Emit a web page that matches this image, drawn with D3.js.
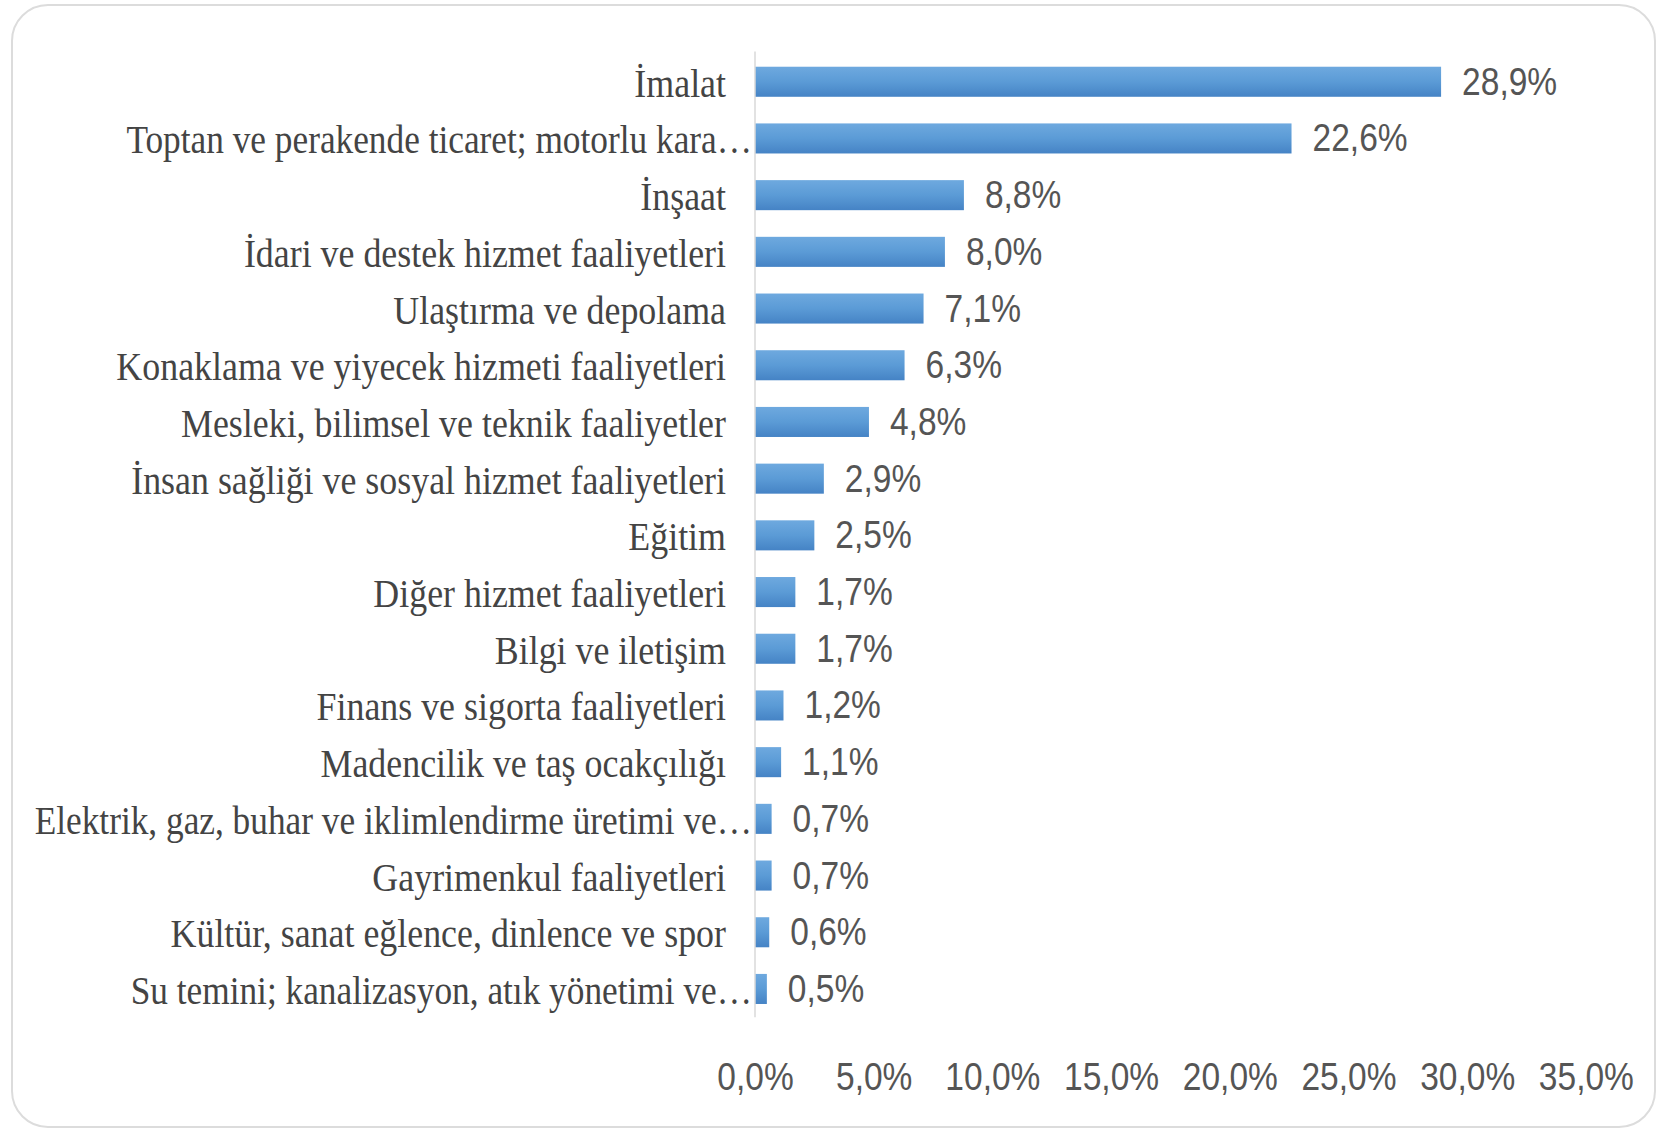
<!DOCTYPE html>
<html>
<head>
<meta charset="utf-8">
<script src="https://cdn.jsdelivr.net/npm/d3@7/dist/d3.min.js"></script>
<style>
  html, body { margin: 0; padding: 0; background: #ffffff; }
  svg { display: block; }
</style>
</head>
<body>
<svg id="chart" width="1657" height="1131"></svg>
<script>
// ---- Data ----
const categories = [
  "İmalat",
  "Toptan ve perakende ticaret; motorlu kara…",
  "İnşaat",
  "İdari ve destek hizmet faaliyetleri",
  "Ulaştırma ve depolama",
  "Konaklama ve yiyecek hizmeti faaliyetleri",
  "Mesleki, bilimsel ve teknik faaliyetler",
  "İnsan sağliği ve sosyal hizmet faaliyetleri",
  "Eğitim",
  "Diğer hizmet faaliyetleri",
  "Bilgi ve iletişim",
  "Finans ve sigorta faaliyetleri",
  "Madencilik ve taş ocakçılığı",
  "Elektrik, gaz, buhar ve iklimlendirme üretimi ve…",
  "Gayrimenkul faaliyetleri",
  "Kültür, sanat eğlence, dinlence ve spor",
  "Su temini; kanalizasyon, atık yönetimi ve…"
];
const values = [28.9, 22.6, 8.8, 8.0, 7.1, 6.3, 4.8, 2.9, 2.5, 1.7, 1.7, 1.2, 1.1, 0.7, 0.7, 0.6, 0.5];
const truncated = [false, true, false, false, false, false, false, false, false, false, false, false, false, true, false, false, true];
const tickValues = [0, 5, 10, 15, 20, 25, 30, 35];

// ---- Setup ----
const svg = d3.select("#chart");
const locale = d3.formatLocale({ decimal: ",", thousands: ".", grouping: [3], currency: ["", ""] });
const fmt = v => locale.format(".1f")(v) + "%";

const defs = svg.append("defs");
const grad = defs.append("linearGradient").attr("id", "barGrad")
  .attr("x1", 0).attr("y1", 0).attr("x2", 0).attr("y2", 1);
grad.append("stop").attr("offset", "0%").attr("stop-color", "#6ea9df");
grad.append("stop").attr("offset", "50%").attr("stop-color", "#5b9bd6");
grad.append("stop").attr("offset", "100%").attr("stop-color", "#4583c5");

// Frame
svg.append("rect")
  .attr("x", 12).attr("y", 5)
  .attr("width", 1643).attr("height", 1122)
  .attr("rx", 36).attr("ry", 36)
  .attr("fill", "#ffffff")
  .attr("stroke", "#dcdcdc").attr("stroke-width", 2);

const x0 = 755;
const x = d3.scaleLinear().domain([0, 35]).range([x0, x0 + 35 * 23.74]);
const y = d3.scaleBand().domain(categories)
  .range([53.4, 1017.3]).paddingInner(0.47).paddingOuter(0.235);

// Bars
svg.append("g").selectAll("rect")
  .data(values)
  .join("rect")
  .attr("x", x(0))
  .attr("y", (d, i) => y(categories[i]))
  .attr("width", d => x(d) - x(0))
  .attr("height", y.bandwidth())
  .attr("fill", "url(#barGrad)");

// Vertical axis line
svg.append("line")
  .attr("x1", x(0)).attr("x2", x(0))
  .attr("y1", y.range()[0] - 2).attr("y2", y.range()[1])
  .attr("stroke", "#d9d9d9").attr("stroke-width", 1.5);

// Category labels
svg.append("g").selectAll("text")
  .data(categories)
  .join("text")
  .attr("transform", (d, i) => truncated[i]
    ? `translate(${x(0) - 3},${y(d) + y.bandwidth() / 2 + 15}) scale(0.905,1)`
    : `translate(${x(0) - 29},${y(d) + y.bandwidth() / 2 + 15}) scale(0.92,1)`)
  .attr("text-anchor", "end")
  .attr("font-family", "'Liberation Serif', 'Times New Roman', serif")
  .attr("font-size", 39)
  .attr("fill", "#444444")
  .text(d => d);

// Value labels
svg.append("g").selectAll("text")
  .data(values)
  .join("text")
  .attr("transform", (d, i) => `translate(${x(d) + 21},${y(categories[i]) + y.bandwidth() / 2 + 13}) scale(0.86,1)`)
  .attr("font-family", "'Liberation Sans', Arial, sans-serif")
  .attr("font-size", 39)
  .attr("fill", "#555555")
  .text(d => fmt(d));

// X axis tick labels
const xAxis = d3.axisBottom(x).tickValues(tickValues).tickSize(0).tickFormat(fmt);
const gx = svg.append("g").attr("transform", "translate(0,0)").call(xAxis);
gx.select(".domain").remove();
gx.selectAll("text")
  .attr("y", 1090).attr("dy", null)
  .attr("transform", "scale(0.86,1)")
  .attr("font-family", "'Liberation Sans', Arial, sans-serif")
  .attr("font-size", 39)
  .attr("fill", "#555555");
</script>
</body>
</html>
